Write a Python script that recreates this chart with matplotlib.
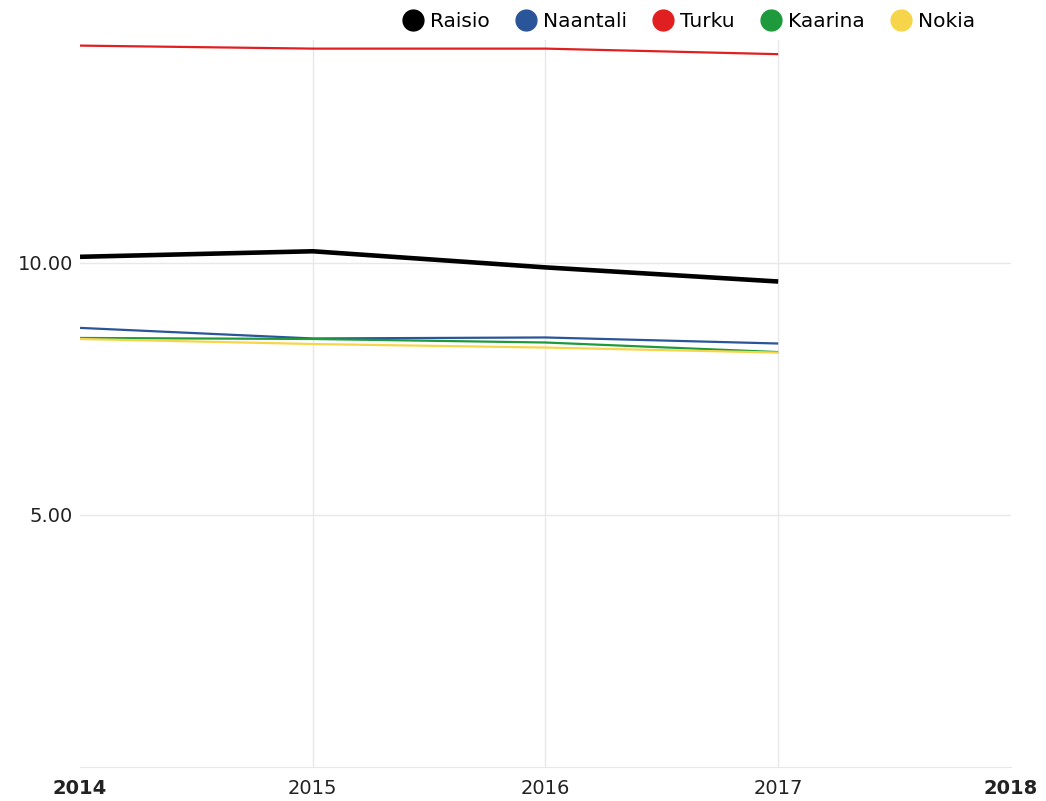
import matplotlib.pyplot as plt

years = [2014, 2015, 2016, 2017]
raisio = [10.12, 10.23, 9.91, 9.63]
naantali = [8.71, 8.50, 8.52, 8.40]
turku = [14.31, 14.25, 14.25, 14.14]
kaarina = [8.51, 8.49, 8.42, 8.23]
nokia = [8.49, 8.39, 8.32, 8.22]
x_ticks = [2014, 2015, 2016, 2017, 2018]
y_ticks = [5, 10]

series = [
    ('Raisio', raisio, '#000000', 3.3),
    ('Naantali', naantali, '#2a5599', 1.6),
    ('Turku', turku, '#e02020', 1.6),
    ('Kaarina', kaarina, '#1e9a3c', 1.6),
    ('Nokia', nokia, '#f7d54a', 1.6),
]

fig = plt.figure(figsize=(10.46, 8.01), dpi=100)
ax = fig.add_axes([0.0765, 0.0425, 0.89, 0.9075])

for name, vals, color, lw in series:
    ax.plot(years, vals, color=color, linewidth=lw, label=name, solid_capstyle='butt')

ax.set_xlim(2014, 2018)
ax.set_ylim(0, 14.42)
ax.set_xticks(x_ticks)
ax.set_xticklabels([str(y) for y in x_ticks], fontsize=14)
for lbl in ax.get_xticklabels():
    if lbl.get_text() in ('2014', '2018'):
        lbl.set_fontweight('bold')
ax.set_yticks(y_ticks)
ax.set_yticklabels(['%.2f' % v for v in y_ticks], fontsize=14)
ax.tick_params(axis='x', length=0, pad=9, colors='#222222')
ax.tick_params(axis='y', length=0, pad=5, colors='#222222')

ax.grid(True, color='#e8e8e8', linewidth=1)
ax.set_axisbelow(True)
# randlinjer pois
gl = ax.xaxis.get_gridlines()
gl[0].set_visible(False)
gl[-1].set_visible(False)
for s in ['top', 'right', 'left']:
    ax.spines[s].set_visible(False)
ax.spines['bottom'].set_color('#e8e8e8')

handles = [plt.Line2D([], [], marker='o', linestyle='none', markersize=15,
                      color=c) for _, _, c, _ in series]
fig.legend(handles, [n for n, _, _, _ in series], loc='upper right',
           bbox_to_anchor=(0.946, 1.003), ncol=5, frameon=False, fontsize=14.5,
           handletextpad=0.3, columnspacing=1.25, handlelength=1.1, borderpad=0.2)

fig.savefig('out.png', dpi=100)
